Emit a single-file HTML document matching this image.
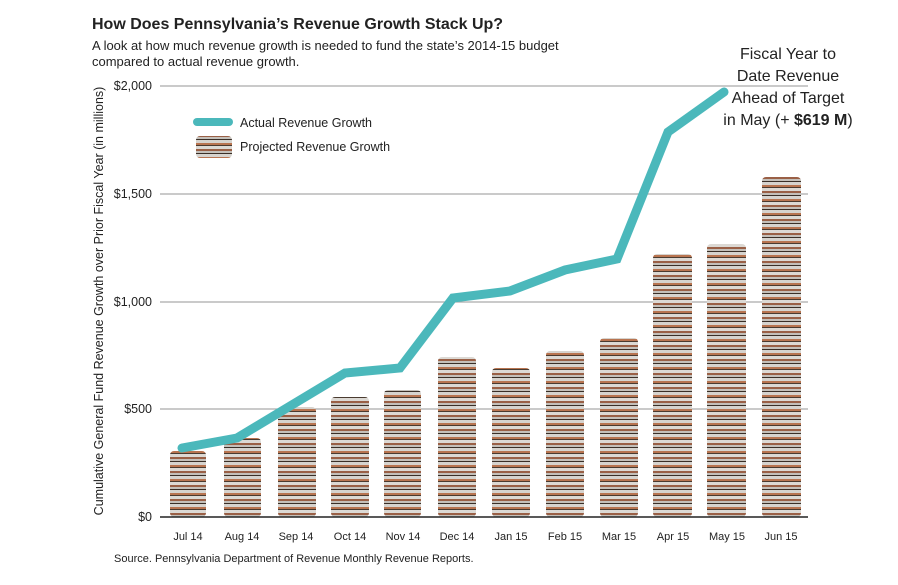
<!DOCTYPE html>
<html><head><meta charset="utf-8"><style>
body{margin:0;background:#fff;width:898px;height:580px;overflow:hidden;font-family:"Liberation Sans",sans-serif;}
</style></head><body>
<svg width="898" height="580" xmlns="http://www.w3.org/2000/svg" font-family="Liberation Sans, sans-serif">
<defs>
<pattern id="coins" width="40" height="14" patternUnits="userSpaceOnUse">
<rect width="40" height="14" fill="#a9a49c"/>
<rect y="0" width="40" height="3" fill="#d6d3ce"/>
<rect y="3" width="40" height="2" fill="#b87450"/>
<rect y="5" width="40" height="1" fill="#4a3b30"/>
<rect y="6" width="40" height="3" fill="#dcd9d4"/>
<rect y="9" width="40" height="2" fill="#9a6046"/>
<rect y="11" width="40" height="2" fill="#c4c0ba"/>
<rect y="13" width="40" height="1" fill="#3a2f27"/>
</pattern>
</defs>
<text x="92" y="29" font-size="16" font-weight="bold" fill="#222">How Does Pennsylvania’s Revenue Growth Stack Up?</text>
<text x="92" y="50" font-size="13" fill="#222">A look at how much revenue growth is needed to fund the state’s 2014-15 budget</text>
<text x="92" y="66" font-size="13" fill="#222">compared to actual revenue growth.</text>
<g stroke="#aaa" stroke-width="1.2">
<line x1="160" y1="86" x2="808" y2="86"/>
<line x1="160" y1="194" x2="808" y2="194"/>
<line x1="160" y1="302" x2="808" y2="302"/>
<line x1="160" y1="409" x2="808" y2="409"/>
</g>
<g font-size="12.5" fill="#222" text-anchor="end">
<text x="152" y="90">$2,000</text><text x="152" y="198">$1,500</text>
<text x="152" y="306">$1,000</text><text x="152" y="413">$500</text><text x="152" y="521">$0</text>
</g>
<text transform="translate(103,301) rotate(-90)" font-size="12.5" fill="#222" text-anchor="middle">Cumulative General Fund Revenue Growth over Prior Fiscal Year (in millions)</text>
<g fill="url(#coins)">
<rect x="170" y="451" width="36" height="66" rx="4"/>
<rect x="224" y="438" width="37" height="79" rx="4"/>
<rect x="278" y="407" width="38" height="110" rx="4"/>
<rect x="331" y="397" width="38" height="120" rx="4"/>
<rect x="384" y="390" width="37" height="127" rx="4"/>
<rect x="438" y="357" width="38" height="160" rx="4"/>
<rect x="492" y="368" width="38" height="149" rx="4"/>
<rect x="546" y="351" width="38" height="166" rx="4"/>
<rect x="600" y="338" width="38" height="179" rx="4"/>
<rect x="653" y="254" width="39" height="263" rx="4"/>
<rect x="707" y="244" width="39" height="273" rx="4"/>
<rect x="762" y="177" width="39" height="340" rx="4"/>
</g>
<line x1="160" y1="517" x2="808" y2="517" stroke="#222" stroke-width="1.5"/>
<g font-size="11" fill="#222" text-anchor="middle">
<text x="188" y="540">Jul 14</text><text x="242" y="540">Aug 14</text><text x="296" y="540">Sep 14</text>
<text x="350" y="540">Oct 14</text><text x="403" y="540">Nov 14</text><text x="457" y="540">Dec 14</text>
<text x="511" y="540">Jan 15</text><text x="565" y="540">Feb 15</text><text x="619" y="540">Mar 15</text>
<text x="673" y="540">Apr 15</text><text x="727" y="540">May 15</text><text x="781" y="540">Jun 15</text>
</g>
<polyline points="182,448 237,438 345,373 400,368 453,298 510,291 565,270 617,259 668,132 724,92" fill="none" stroke="#4bb8bb" stroke-width="9" stroke-linejoin="miter" stroke-linecap="round"/>
<line x1="197" y1="122" x2="229" y2="122" stroke="#4bb8bb" stroke-width="8" stroke-linecap="round"/>
<rect x="196" y="136" width="36" height="22" rx="4" fill="url(#coins)"/>
<text x="240" y="127" font-size="12.5" fill="#222">Actual Revenue Growth</text>
<text x="240" y="151" font-size="12.5" fill="#222">Projected Revenue Growth</text>
<g font-size="16" fill="#222" text-anchor="middle">
<text x="788" y="59">Fiscal Year to</text><text x="788" y="81">Date Revenue</text>
<text x="788" y="103">Ahead of Target</text><text x="788" y="125">in May (+ <tspan font-weight="bold">$619 M</tspan>)</text>
</g>
<text x="114" y="562" font-size="11" fill="#222">Source. Pennsylvania Department of Revenue Monthly Revenue Reports.</text>
</svg>
</body></html>
